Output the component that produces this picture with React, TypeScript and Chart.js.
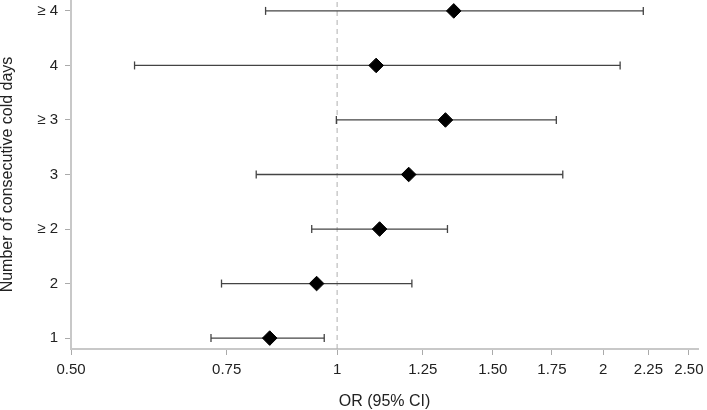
import React, { useEffect, useRef } from "react";
import { Chart, registerables } from "chart.js";

Chart.register(...registerables);

const categories = ["1", "2", "≥ 2", "3", "≥ 3", "4", "≥ 4"];
const orValues = [0.839, 0.948, 1.117, 1.205, 1.326, 1.107, 1.355];
const lowerCI = [0.72, 0.74, 0.936, 0.81, 0.998, 0.59, 0.83];
const upperCI = [0.967, 1.215, 1.333, 1.8, 1.77, 2.09, 2.22];
const xTickValues = [0.5, 0.75, 1, 1.25, 1.5, 1.75, 2, 2.25, 2.5];
const xTickLabels = ["0.50", "0.75", "1", "1.25", "1.50", "1.75", "2", "2.25", "2.50"];
const referenceOR = 1;

const FONT = "'Liberation Sans', Arial, sans-serif";
const TEXT = "#222222";

export default function App() {
  const ref = useRef<HTMLCanvasElement | null>(null);

  useEffect(() => {
    document.body.style.margin = "0";
    const canvas = ref.current;
    if (!canvas) return;

    const datasets: any[] = [];
    datasets.push({
      type: "line",
      data: [
        { x: referenceOR, y: 0.8 },
        { x: referenceOR, y: 7.2 },
      ],
      borderColor: "#b0b0b0",
      borderWidth: 1,
      borderDash: [5, 4],
      pointRadius: 0,
      showLine: true,
      fill: false,
      order: 3,
    });
    categories.forEach((_, i) => {
      datasets.push({
        type: "line",
        data: [
          { x: lowerCI[i], y: i + 1 },
          { x: upperCI[i], y: i + 1 },
        ],
        borderColor: "#444444",
        borderWidth: 1.3,
        pointStyle: "line",
        rotation: 90,
        pointRadius: 4,
        pointBorderColor: "#444444",
        pointBorderWidth: 1.3,
        showLine: true,
        fill: false,
        order: 2,
      });
    });
    datasets.push({
      type: "scatter",
      data: orValues.map((v, i) => ({ x: v, y: i + 1 })),
      pointStyle: "rectRot",
      pointRadius: 7.3,
      backgroundColor: "#000000",
      borderColor: "#000000",
      borderWidth: 1,
      order: 1,
    });

    const chart = new Chart(canvas, {
      type: "scatter",
      data: { datasets },
      options: {
        animation: false,
        responsive: false,
        maintainAspectRatio: false,
        layout: { autoPadding: false, padding: { left: 0, right: 9, top: 0, bottom: 0 } },
        plugins: {
          legend: { display: false },
          tooltip: { enabled: false },
        },
        scales: {
          x: {
            type: "logarithmic",
            min: 0.5,
            max: 2.56,
            afterBuildTicks: (scale: any) => {
              scale.ticks = xTickValues.map((v) => ({ value: v }));
            },
            afterFit: (scale: any) => {
              scale.height = 61;
              scale.paddingLeft = 0;
              scale.paddingRight = 0;
            },
            ticks: {
              autoSkip: false,
              maxRotation: 0,
              color: TEXT,
              font: { family: FONT, size: 15 },
              padding: 6,
              callback: (value: any) => {
                const idx = xTickValues.indexOf(Number(value));
                return idx >= 0 ? xTickLabels[idx] : "";
              },
            },
            grid: {
              display: true,
              drawOnChartArea: false,
              drawTicks: true,
              tickLength: 6,
              color: "#aaaaaa",
            },
            border: { display: true, color: "#c8c8c8", width: 2 },
            title: {
              display: true,
              text: "OR (95% CI)",
              color: TEXT,
              font: { family: FONT, size: 16, lineHeight: 1 },
              padding: { top: 0, bottom: 0 },
            },
          },
          y: {
            type: "linear",
            min: 0.8,
            max: 7.2,
            afterBuildTicks: (scale: any) => {
              scale.ticks = categories.map((_, i) => ({ value: i + 1 }));
            },
            afterFit: (scale: any) => {
              scale.width = 71;
              scale.paddingTop = 0;
              scale.paddingBottom = 0;
            },
            ticks: {
              autoSkip: false,
              color: TEXT,
              font: { family: FONT, size: 15 },
              padding: 7,
              callback: (value: any) => {
                const idx = Number(value) - 1;
                return categories[idx] ?? "";
              },
            },
            grid: {
              display: true,
              drawOnChartArea: false,
              drawTicks: true,
              tickLength: 6,
              color: "#aaaaaa",
            },
            border: { display: true, color: "#c8c8c8", width: 2 },
            title: {
              display: true,
              text: "Number of consecutive cold days",
              color: TEXT,
              font: { family: FONT, size: 16, lineHeight: 1 },
              padding: { top: 0, bottom: 0 },
            },
          },
        },
      },
    });

    return () => {
      chart.destroy();
    };
  }, []);

  return (
    <div style={{ position: "relative", width: 707, height: 410 }}>
      <canvas ref={ref} width={707} height={410} style={{ display: "block", width: 707, height: 410 }} />
    </div>
  );
}
